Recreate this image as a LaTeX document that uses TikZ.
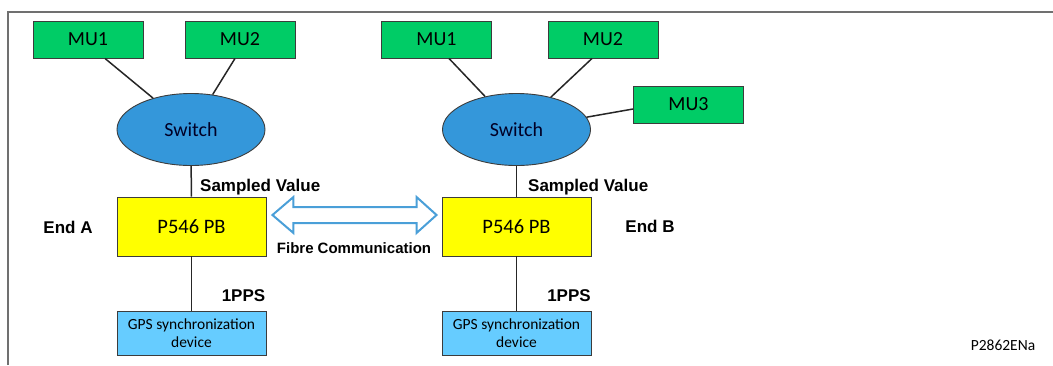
\documentclass[tikz,border=0pt]{standalone}
\usepackage{fontspec}
\usetikzlibrary{calc,shapes.geometric}
\newfontfamily\carl{Carlito}
\newfontfamily\lsans{Liberation Sans}
\definecolor{mugreen}{HTML}{00CC66}
\definecolor{swblue}{HTML}{3497DA}
\definecolor{gpsblue}{HTML}{66CCFF}
\definecolor{pyellow}{HTML}{FFFF00}
\definecolor{edge}{HTML}{3C3C3C}
\definecolor{framegray}{HTML}{707070}
\definecolor{arrowblue}{HTML}{4A9FD8}
\tikzset{
  mubox/.style={rectangle, draw=edge, line width=0.9pt, fill=mugreen, minimum width=110, minimum height=37, inner sep=0pt, font=\carl\fontsize{20}{24}\selectfont},
  swnode/.style={ellipse, draw=edge, line width=0.9pt, fill=swblue, minimum width=148, minimum height=72, inner sep=0pt, font=\carl\fontsize{20}{24}\selectfont, text=black!85!blue},
  pbox/.style={rectangle, draw=edge, line width=0.9pt, fill=pyellow, minimum width=149, minimum height=59, inner sep=0pt, font=\carl\fontsize{20.5}{24}\selectfont},
  gpsbox/.style={rectangle, draw=edge, line width=0.9pt, fill=gpsblue, minimum width=149, minimum height=44, inner sep=0pt, align=center, font=\carl\fontsize{15.5}{18}\selectfont},
  conn/.style={draw=black!85, line width=1.5pt},
  lbl/.style={inner sep=0pt, font=\lsans\bfseries\fontsize{17}{20}\selectfont},
  fibre/.style={draw=arrowblue, line width=2pt, fill=white, line join=miter},
  framel/.style={draw=framegray, line width=1.4pt}
}
\begin{document}
\begin{tikzpicture}[x=1pt,y=-1pt]
\useasboundingbox (0,0) rectangle (1053,365);
% frame
\coordinate (f1) at (8,365);
\coordinate (f2) at (8,12);
\coordinate (f3) at (1053,12);
\draw[framel] (f1) -- (f2) -- (f3);

% End A
\node[mubox] (mua1) at (88,39.5) {MU1};
\node[mubox] (mua2) at (240,39.5) {MU2};
\node[swnode] (swa) at (191,129.5) {Switch};
\node[pbox] (pa) at (191.5,226.5) {P546 PB};
\node[gpsbox] (gpsa) at (191.5,333) {GPS synchronization\\device};

% End B
\node[mubox] (mub1) at (436.5,39.5) {MU1};
\node[mubox] (mub2) at (603,39.5) {MU2};
\node[mubox] (mub3) at (688.5,104.5) {MU3};
\node[swnode] (swb) at (516.5,129.5) {Switch};
\node[pbox] (pb) at (516.5,226.5) {P546 PB};
\node[gpsbox] (gpsb) at (516.5,333) {GPS synchronization\\device};

% connectors
\draw[conn] ([xshift=17pt]mua1.south) -- (swa);
\draw[conn] ([xshift=-5pt]mua2.south) -- (swa);
\draw[conn] ([xshift=12.5pt]mub1.south) -- (swb);
\draw[conn] ([xshift=-11pt]mub2.south) -- (swb);
\draw[conn] ([yshift=-4.5pt]mub3.west) -- (swb);
\draw[conn] (swa) -- (pa);
\draw[conn] (swb) -- (pb);
\draw[conn] (pa) -- (gpsa);
\draw[conn] (pb) -- (gpsb);

% fibre double arrow
\coordinate (fl) at ($(pa.east)+(6,-11.5)$);
\coordinate (fr) at ($(pb.west)+(-5,-11.5)$);
\draw[fibre] (fl) -- ++(21,-18) -- ++(0,10) -- ($(fr)+(-20,-8)$) -- ++(0,-10) -- (fr)
  -- ++(-20,18) -- ++(0,-10) -- ($(fl)+(21,8)$) -- ++(0,10) -- cycle;

% labels
\node[lbl, anchor=west] (sva) at (200,187) {Sampled Value};
\node[lbl, anchor=west] (svb) at (528,187) {Sampled Value};
\node[lbl] (enda) at (68,227) {End A};
\node[lbl] (endb) at (650,226) {End B};
\node[lbl, font=\lsans\bfseries\fontsize{15}{18}\selectfont] (fibtxt) at (354,248) {Fibre Communication};
\node[lbl] (ppsa) at (243.5,296) {1PPS};
\node[lbl] (ppsb) at (569,296) {1PPS};
\node[inner sep=0pt, font=\carl\fontsize{15.5}{18}\selectfont] (ref) at (1003,345) {P2862ENa};
\end{tikzpicture}
\end{document}
